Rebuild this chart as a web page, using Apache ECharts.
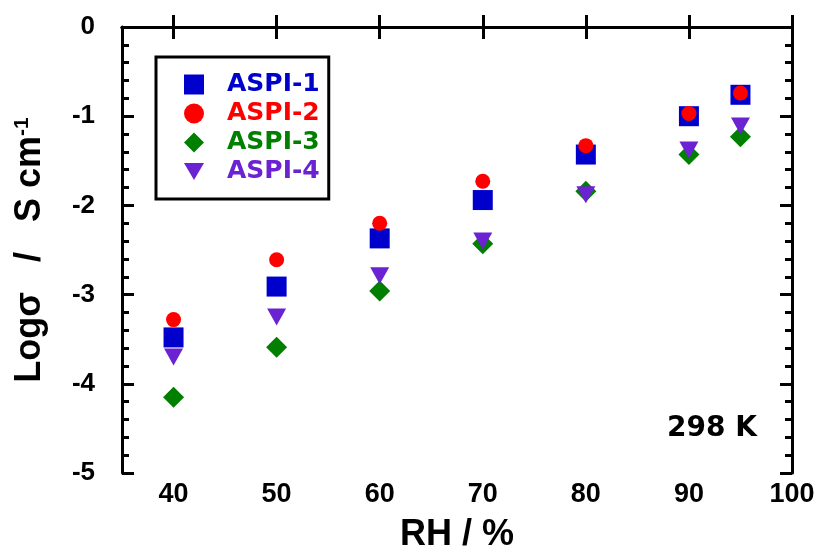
<!DOCTYPE html>
<html>
<head>
<meta charset="utf-8">
<script src="https://cdn.jsdelivr.net/npm/echarts@6/dist/echarts.min.js"></script>
<style>
html,body{margin:0;padding:0;background:#fff;}
#chart{width:815px;height:547px;}
</style>
</head>
<body>
<div id="chart"></div>
<script>
// ---- data ----
var rh = [40, 50, 60, 70, 80, 90, 95];
var aspi1 = [-3.48, -2.91, -2.37, -1.94, -1.43, -1.00, -0.76];
var aspi2 = [-3.28, -2.61, -2.20, -1.73, -1.33, -0.97, -0.74];
var aspi3 = [-4.15, -3.59, -2.96, -2.43, -1.84, -1.43, -1.23];
var aspi4 = [-3.70, -3.25, -2.79, -2.40, -1.88, -1.38, -1.11];
var xTicks = [40, 50, 60, 70, 80, 90, 100];
var seriesNames = ['ASPI-1', 'ASPI-2', 'ASPI-3', 'ASPI-4'];
var colors = ['#0000CC', '#FF0000', '#007F00', '#6A22D2'];

function pairs(xs, ys) { return xs.map(function (x, i) { return [x, ys[i]]; }); }

var chart = echarts.init(document.getElementById('chart'), null, {renderer: 'canvas'});
var FONT = 'Liberation Sans';
var TRI_DOWN = 'path://M0,0L20,0L10,17Z';
var legendIcons = ['rect', 'circle', 'diamond', TRI_DOWN];

var commonX = {
  type: 'value', min: 35, max: 100,
  axisLine: {show: true, lineStyle: {color: '#000', width: 3}},
  axisTick: {show: true, inside: true, length: 12, lineStyle: {color: '#000', width: 3}, customValues: xTicks},
  splitLine: {show: false}
};
var commonY = {
  type: 'value', min: -5, max: 0, interval: 1,
  axisLine: {show: true, onZero: false, lineStyle: {color: '#000', width: 3}},
  axisTick: {show: true, inside: true, length: 12, lineStyle: {color: '#000', width: 3}},
  minorTick: {show: true, splitNumber: 5, length: 7, lineStyle: {color: '#000', width: 3}},
  splitLine: {show: false}
};

var option = {
  animation: false,
  backgroundColor: '#fff',
  grid: {left: 122, right: 23, top: 27, bottom: 74, containLabel: false, outerBoundsMode: 'none'},
  xAxis: [
    Object.assign({}, commonX, {
      position: 'bottom',
      name: 'RH / %', nameLocation: 'middle', nameGap: 44,
      nameTextStyle: {fontFamily: FONT, fontWeight: 'bold', fontSize: 36, color: '#000'},
      axisLabel: {show: true, customValues: xTicks, margin: 8, fontFamily: FONT, fontWeight: 'bold', fontSize: 27, color: '#000'}
    }),
    Object.assign({}, commonX, {position: 'top', axisLabel: {show: false}})
  ],
  yAxis: [
    Object.assign({}, commonY, {
      position: 'left',
      name: '{m|Logσ   /   S cm}{s|-1}', nameLocation: 'middle', nameGap: 74,
      nameTextStyle: {
        rich: {
          m: {fontFamily: FONT, fontWeight: 'bold', fontSize: 36, color: '#000'},
          s: {fontFamily: FONT, fontWeight: 'bold', fontSize: 21, color: '#000', padding: [0, 0, 15, 0]}
        }
      },
      axisLabel: {show: true, margin: 27, fontFamily: FONT, fontWeight: 'bold', fontSize: 26, color: '#000'}
    }),
    Object.assign({}, commonY, {position: 'right', axisLabel: {show: false}})
  ],
  legend: {
    show: true, orient: 'vertical', left: 156, top: 57,
    padding: [15, 9, 15, 28],
    borderColor: '#000', borderWidth: 3,
    itemWidth: 20, itemHeight: 20, itemGap: 4,
    selectedMode: false,
    formatter: function (n) { return '{t|' + n + '}'; },
    textStyle: {
      fontFamily: 'DejaVu Sans', fontWeight: 'bold', fontSize: 25, lineHeight: 20,
      rich: {t: {fontFamily: 'DejaVu Sans', fontWeight: 'bold', fontSize: 25, lineHeight: 20, padding: [0, 0, 0, 18]}}
    },
    data: seriesNames.map(function (n, i) {
      return {name: n, icon: legendIcons[i], itemStyle: {color: colors[i], opacity: 1}, textStyle: {color: colors[i]}};
    })
  },
  graphic: [{
    type: 'text', right: 58, top: 415,
    style: {text: '298 K', fontFamily: 'DejaVu Sans', fontWeight: 'bold', fontSize: 28, fill: '#000'}
  }],
  series: [
    {name: seriesNames[0], type: 'scatter', data: pairs(rh, aspi1), symbol: 'rect', symbolSize: 20, itemStyle: {color: colors[0], opacity: 1}},
    {name: seriesNames[1], type: 'scatter', data: pairs(rh, aspi2), symbol: 'circle', symbolSize: 15, itemStyle: {color: colors[1], opacity: 1}},
    {name: seriesNames[2], type: 'scatter', data: pairs(rh, aspi3), symbol: 'diamond', symbolSize: 21, itemStyle: {color: colors[2], opacity: 1}},
    {name: seriesNames[3], type: 'scatter', data: pairs(rh, aspi4), symbol: TRI_DOWN, symbolSize: [19, 17], itemStyle: {color: colors[3], opacity: 1}}
  ]
};
chart.setOption(option);
</script>
</body>
</html>
